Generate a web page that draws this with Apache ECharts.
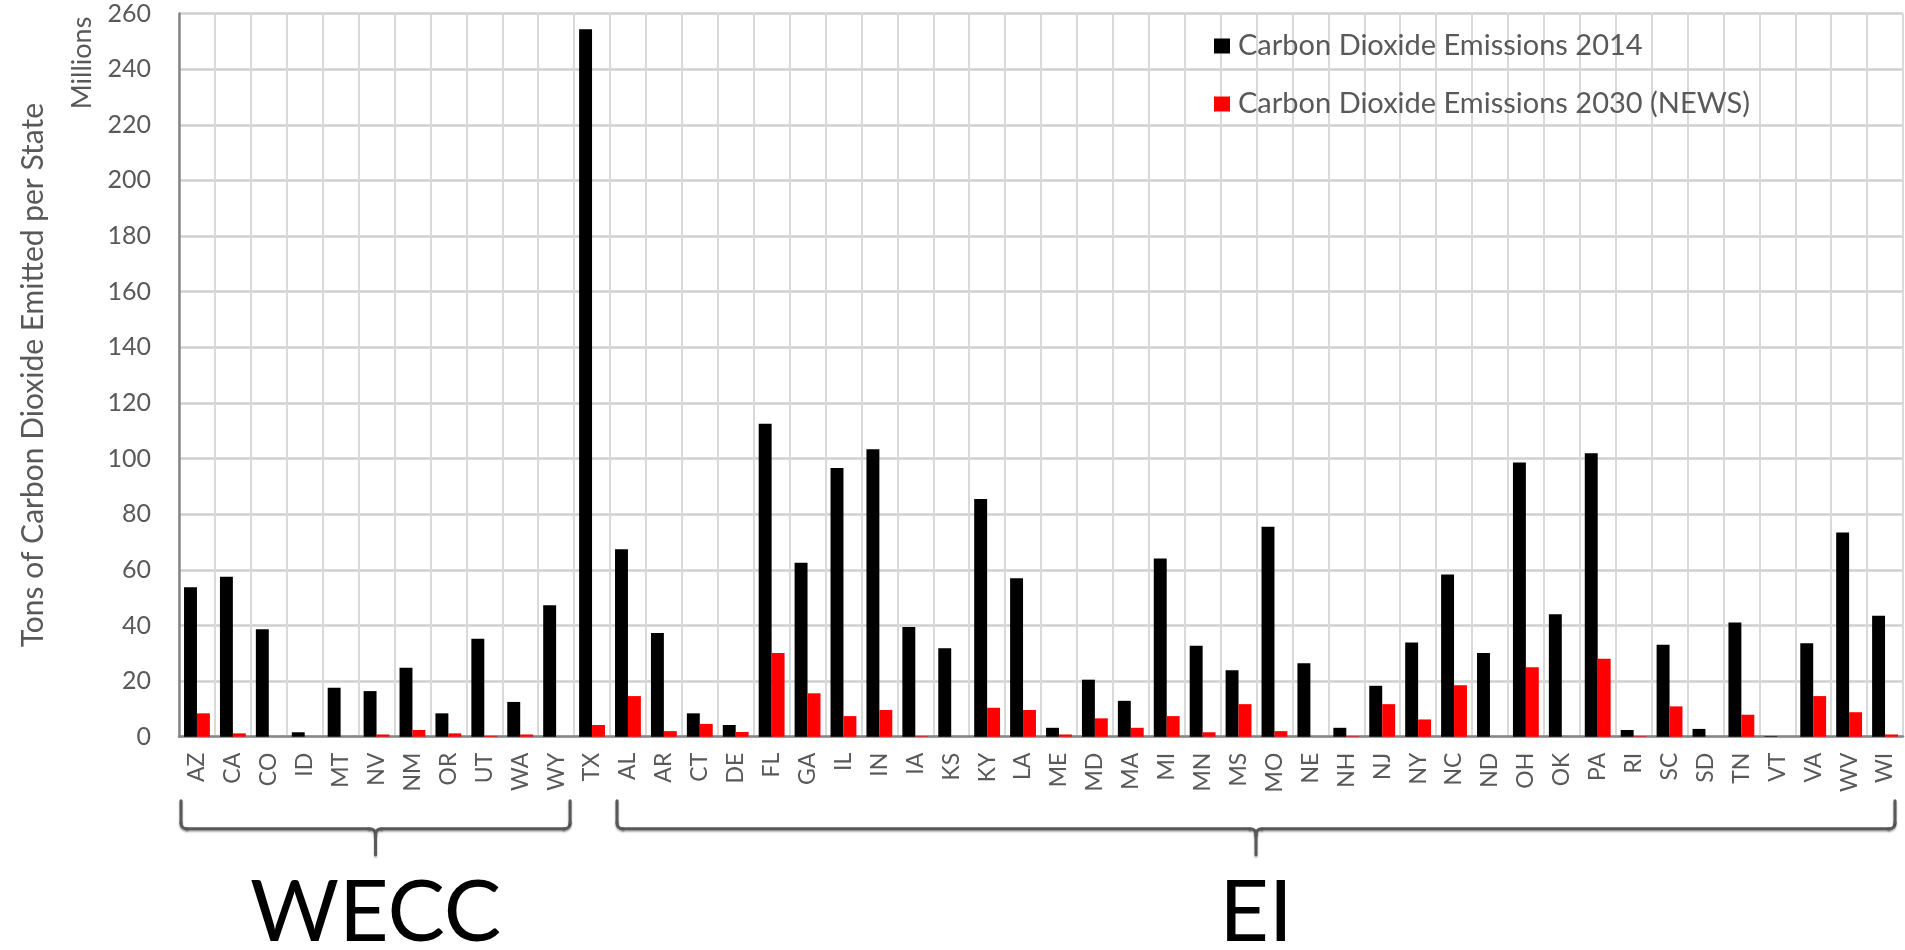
<!DOCTYPE html>
<html>
<head>
<meta charset="utf-8">
<script src="https://cdn.jsdelivr.net/npm/echarts@6/dist/echarts.min.js"></script>
<style>
  html, body { margin: 0; padding: 0; background: #fff; }
  #chart { width: 1905px; height: 950px; }
</style>
</head>
<body>
<div id="chart"></div>
<script>
// States grouped by interconnection: WECC, then TX, then EI
const states = ['AZ','CA','CO','ID','MT','NV','NM','OR','UT','WA','WY',
  'TX',
  'AL','AR','CT','DE','FL','GA','IL','IN','IA','KS','KY','LA','ME','MD','MA','MI','MN','MS','MO',
  'NE','NH','NJ','NY','NC','ND','OH','OK','PA','RI','SC','SD','TN','VT','VA','WV','WI'];

// Millions of tons of CO2
const emissions2014 = [53.7, 57.5, 38.6, 1.6, 17.6, 16.4, 24.8, 8.4, 35.2, 12.5, 47.3,
  254.3,
  67.4, 37.3, 8.4, 4.2, 112.5, 62.5, 96.6, 103.3, 39.4, 31.8, 85.5, 57.0, 3.2, 20.5, 12.9, 64.1, 32.7, 23.9, 75.5,
  26.4, 3.2, 18.3, 33.9, 58.3, 30.1, 98.6, 44.0, 101.9, 2.4, 33.1, 2.8, 41.1, 0.2, 33.6, 73.4, 43.5];

const emissions2030 = [8.4, 1.2, 0, 0, 0, 0.8, 2.4, 1.2, 0.3, 0.8, 0,
  4.2,
  14.6, 2.0, 4.6, 1.7, 30.1, 15.6, 7.4, 9.6, 0.2, 0, 10.4, 9.6, 0.8, 6.6, 3.2, 7.4, 1.6, 11.7, 2.0,
  0, 0.2, 11.7, 6.2, 18.5, 0, 25.0, 0, 28.0, 0.2, 10.9, 0, 7.9, 0, 14.6, 8.8, 0.8];

const seriesNames = ['Carbon Dioxide Emissions 2014', 'Carbon Dioxide Emissions 2030 (NEWS)'];
const yTicks = { min: 0, max: 260, interval: 20 };

// Region brackets drawn under the category labels: [label, first state, last state]
const regions = [['WECC', 'AZ', 'WY'], ['EI', 'AL', 'WI']];

const FONT = 'Lato, "Open Sans", sans-serif';
const GREY = '#595959';

const chart = echarts.init(document.getElementById('chart'), null, { renderer: 'canvas' });

const option = {
  animation: false,
  backgroundColor: '#ffffff',
  grid: { left: 179, right: 2, top: 13.5, bottom: 213.3, containLabel: false },
  legend: {
    orient: 'vertical',
    left: 1209,
    top: 25,
    itemWidth: 16,
    itemHeight: 15,
    itemGap: 26,
    icon: 'rect',
    textStyle: { fontFamily: FONT, fontSize: 29, color: GREY, lineHeight: 32, padding: [0, 0, 0, 3] },
    data: seriesNames
  },
  xAxis: {
    type: 'category',
    data: states,
    boundaryGap: true,
    axisLine: { lineStyle: { color: '#868686', width: 2.5 } },
    axisTick: { show: false },
    axisLabel: { interval: 0, rotate: 90, margin: 16, color: GREY, fontFamily: FONT, fontSize: 23 },
    splitLine: { show: true, interval: 0, lineStyle: { color: '#d9d9d9', width: 2 } }
  },
  yAxis: {
    type: 'value',
    min: yTicks.min,
    max: yTicks.max,
    interval: yTicks.interval,
    axisLine: { show: true, lineStyle: { color: '#868686', width: 2.5 } },
    axisTick: { show: false },
    axisLabel: { margin: 28, color: GREY, fontFamily: FONT, fontSize: 25 },
    splitLine: { lineStyle: { color: '#d0d0d0', width: 2.5 } }
  },
  series: [
    {
      name: seriesNames[0], type: 'bar', data: emissions2014,
      itemStyle: { color: '#000000' },
      barGap: '0%', barCategoryGap: '28%'
    },
    {
      name: seriesNames[1], type: 'bar', data: emissions2030,
      itemStyle: { color: '#ff0000' },
      barGap: '0%', barCategoryGap: '28%'
    }
  ]
};

chart.setOption(option);

// Axis titles and region brackets, placed from the axis scale
const band = chart.convertToPixel({ xAxisIndex: 0 }, states[1]) - chart.convertToPixel({ xAxisIndex: 0 }, states[0]);
const yTop = chart.convertToPixel({ yAxisIndex: 0 }, yTicks.max);
const yZero = chart.convertToPixel({ yAxisIndex: 0 }, yTicks.min);

const graphics = [
  {
    type: 'text', x: 33, y: (yTop + yZero) / 2, rotation: Math.PI / 2,
    style: { text: 'Tons of Carbon Dioxide Emitted per State', fontFamily: FONT, fontSize: 30, fill: GREY, align: 'center', verticalAlign: 'middle' }
  },
  {
    type: 'text', x: 82, y: 63, rotation: Math.PI / 2,
    style: { text: 'Millions', fontFamily: FONT, fontSize: 27, fill: GREY, align: 'center', verticalAlign: 'middle' }
  }
];

const bracketStyle = {
  fill: null, stroke: GREY, lineWidth: 3, lineCap: 'round',
  shadowColor: 'rgba(0,0,0,0.35)', shadowBlur: 2, shadowOffsetY: 1.5
};
const line = (x1, y1, x2, y2) => ({ type: 'line', shape: { x1, y1, x2, y2 }, style: bracketStyle });
const curve = (x1, y1, cpx1, cpy1, x2, y2) => ({ type: 'bezierCurve', shape: { x1, y1, cpx1, cpy1, x2, y2 }, style: bracketStyle });

const bTop = yZero + 64, bLine = yZero + 92, bTip = yZero + 118, r = 6;
regions.forEach(([label, first, last], i) => {
  const x0 = chart.convertToPixel({ xAxisIndex: 0 }, first) - band / 2 + (i === 0 ? 2 : 7);
  const x1 = chart.convertToPixel({ xAxisIndex: 0 }, last) + band / 2 - (i === 0 ? 4 : 8);
  const xm = (x0 + x1) / 2;
  graphics.push(
    line(x0, bTop, x0, bLine - r),
    curve(x0, bLine - r, x0, bLine, x0 + r, bLine),
    line(x0 + r, bLine, xm - r, bLine),
    curve(xm - r, bLine, xm, bLine, xm, bLine + r),
    curve(xm + r, bLine, xm, bLine, xm, bLine + r),
    line(xm, bLine + r, xm, bTip),
    line(xm + r, bLine, x1 - r, bLine),
    curve(x1 - r, bLine, x1, bLine, x1, bLine - r),
    line(x1, bLine - r, x1, bTop),
    {
      type: 'text', x: xm, y: yZero + 177,
      style: { text: label, fontFamily: FONT, fontSize: 86, fill: '#000000', align: 'center', verticalAlign: 'middle' }
    }
  );
});

chart.setOption({ graphic: graphics });
</script>
</body>
</html>
